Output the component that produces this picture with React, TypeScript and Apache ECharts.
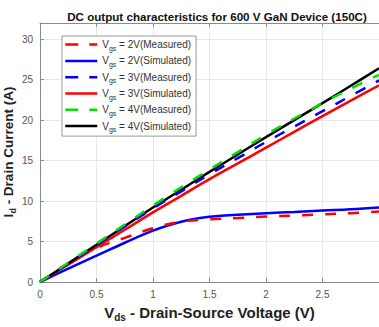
import React, { useEffect, useRef } from "react";
import * as echarts from "echarts";

const vds = [0, 0.25, 0.5, 0.75, 1, 1.25, 1.5, 1.75, 2, 2.25, 2.5, 2.75, 3];
const id2Measured = [0, 2.3, 4.2, 5.45, 6.65, 7.45, 7.75, 7.9, 8.1, 8.2, 8.35, 8.5, 8.7];
const id2Simulated = [0, 1.65, 3.25, 4.85, 6.35, 7.45, 8.05, 8.3, 8.5, 8.65, 8.82, 8.98, 9.2];
const id3Measured = [0, 2.28, 4.55, 6.85, 9.1, 11.2, 13.3, 15.3, 17.3, 19.2, 21.1, 23.0, 24.9];
const id3Simulated = [0, 2.15, 4.3, 6.45, 8.6, 10.65, 12.7, 14.65, 16.6, 18.55, 20.5, 22.4, 24.3];
const id4Measured = [0, 2.38, 4.75, 7.1, 9.45, 11.7, 13.9, 16.05, 18.2, 20.2, 22.1, 23.9, 25.6];
const id4Simulated = [0, 2.3, 4.6, 6.9, 9.2, 11.4, 13.6, 15.75, 17.9, 20.0, 22.1, 24.25, 26.4];

const seriesNames = [
  "Vgs = 2V(Measured)",
  "Vgs = 2V(Simulated)",
  "Vgs = 3V(Measured)",
  "Vgs = 3V(Simulated)",
  "Vgs = 4V(Measured)",
  "Vgs = 4V(Simulated)",
];
const seriesValues = [id2Measured, id2Simulated, id3Measured, id3Simulated, id4Measured, id4Simulated];
const seriesColors = ["#ff0000", "#0000ff", "#0000ff", "#ff0000", "#00e000", "#000000"];
const seriesDashed = [true, false, true, false, true, false];

const titleText = "DC output characteristics for 600 V GaN Device (150C)";
const FONT = "'Liberation Sans', Arial, Helvetica, sans-serif";

export default function App() {
  const ref = useRef<HTMLDivElement>(null);
  useEffect(() => {
    if (!ref.current) return;
    const chart = echarts.init(ref.current, null, { renderer: "svg" });
    const series = seriesNames.map((name, i) => ({
      name,
      type: "line",
      data: vds.map((x, j) => [x, seriesValues[i][j]]),
      showSymbol: false,
      symbol: "none",
      smooth: 0.4,
      lineStyle: {
        color: seriesColors[i],
        width: 2.5,
        type: seriesDashed[i] ? [11, 12] : "solid",
      },
      itemStyle: { color: seriesColors[i] },
      z: seriesDashed[i] ? 3 : 2,
    }));
    const axisLineStyle = { color: "#8a8a8a", width: 1 };
    chart.setOption({
      animation: false,
      textStyle: { fontFamily: FONT },
      title: {
        text: titleText,
        left: 212,
        top: 5,
        textAlign: "center",
        textStyle: { fontSize: 11.6, fontWeight: "bold", color: "#111", fontFamily: FONT },
      },
      grid: { left: 40, right: -1, top: 23, bottom: 40 },
      legend: {
        orient: "vertical",
        left: 62,
        top: 36,
        itemWidth: 32,
        itemHeight: 14,
        itemGap: 3.7,
        padding: [3, 5, 3, 2],
        borderColor: "#999",
        borderWidth: 1,
        backgroundColor: "#fff",
        itemStyle: { opacity: 0, borderWidth: 0 },
        data: seriesNames.map((name, i) => ({
          name,
          itemStyle: { opacity: 0, borderWidth: 0 },
          lineStyle: { type: seriesDashed[i] ? [13, 11] : "solid", width: 2.5 },
        })),
        formatter: (name: string) => `{v|V}{s|gs}{t|${name.replace(/^Vgs/, "")}}`,
        textStyle: {
          color: "#333",
          fontSize: 10,
          fontFamily: FONT,
          rich: {
            v: { fontSize: 10, color: "#333", fontFamily: FONT },
            s: { fontSize: 7, color: "#333", fontFamily: FONT, padding: [7, 0, 0, 0] },
            t: { fontSize: 10, color: "#333", fontFamily: FONT },
          },
        },
      },
      xAxis: [
        {
          type: "value",
          min: 0,
          max: 3,
          interval: 0.5,
          name: "{b|V}{s|ds}{b| - Drain-Source Voltage (V)}",
          nameLocation: "middle",
          nameGap: 21,
          nameTextStyle: {
            rich: {
              b: { fontSize: 15, fontWeight: "bold", color: "#222", fontFamily: FONT },
              s: { fontSize: 10, fontWeight: "bold", color: "#222", fontFamily: FONT, padding: [9, 0, 0, 0] },
            },
          },
          axisLine: { show: true, lineStyle: axisLineStyle },
          axisTick: { show: true, inside: true, length: 4, lineStyle: axisLineStyle },
          axisLabel: { color: "#555", fontSize: 10, margin: 7, showMaxLabel: false, fontFamily: FONT },
          splitLine: { show: true, lineStyle: { color: "#e8e8e8", width: 1 } },
        },
        {
          type: "value",
          position: "top",
          min: 0,
          max: 3,
          interval: 0.5,
          axisLine: { show: true, lineStyle: axisLineStyle },
          axisTick: { show: true, inside: true, length: 4, lineStyle: axisLineStyle },
          axisLabel: { show: false },
          splitLine: { show: false },
        },
      ],
      yAxis: {
        type: "value",
        min: 0,
        max: 32,
        interval: 5,
        axisLine: { show: true, lineStyle: axisLineStyle },
        axisTick: { show: true, inside: true, length: 4, lineStyle: axisLineStyle },
        axisLabel: { color: "#555", fontSize: 10, margin: 7, showMaxLabel: false, fontFamily: FONT },
        splitLine: { show: true, lineStyle: { color: "#e8e8e8", width: 1 } },
      },
      graphic: [
        {
          type: "text",
          x: 17,
          y: 152,
          rotation: Math.PI / 2,
          style: {
            text: "{b|I}{s|d}{b| - Drain Current (A)}",
            align: "center",
            verticalAlign: "bottom",
            rich: {
              b: { fontSize: 13.5, fontWeight: "bold", fill: "#222", fontFamily: FONT },
              s: { fontSize: 9, fontWeight: "bold", fill: "#222", fontFamily: FONT, padding: [8, 0, 0, 0] },
            },
          },
        },
      ],
      series,
    });
    return () => chart.dispose();
  }, []);
  return <div ref={ref} style={{ width: 379, height: 327, position: "absolute", left: 0, top: 0 }} />;
}
